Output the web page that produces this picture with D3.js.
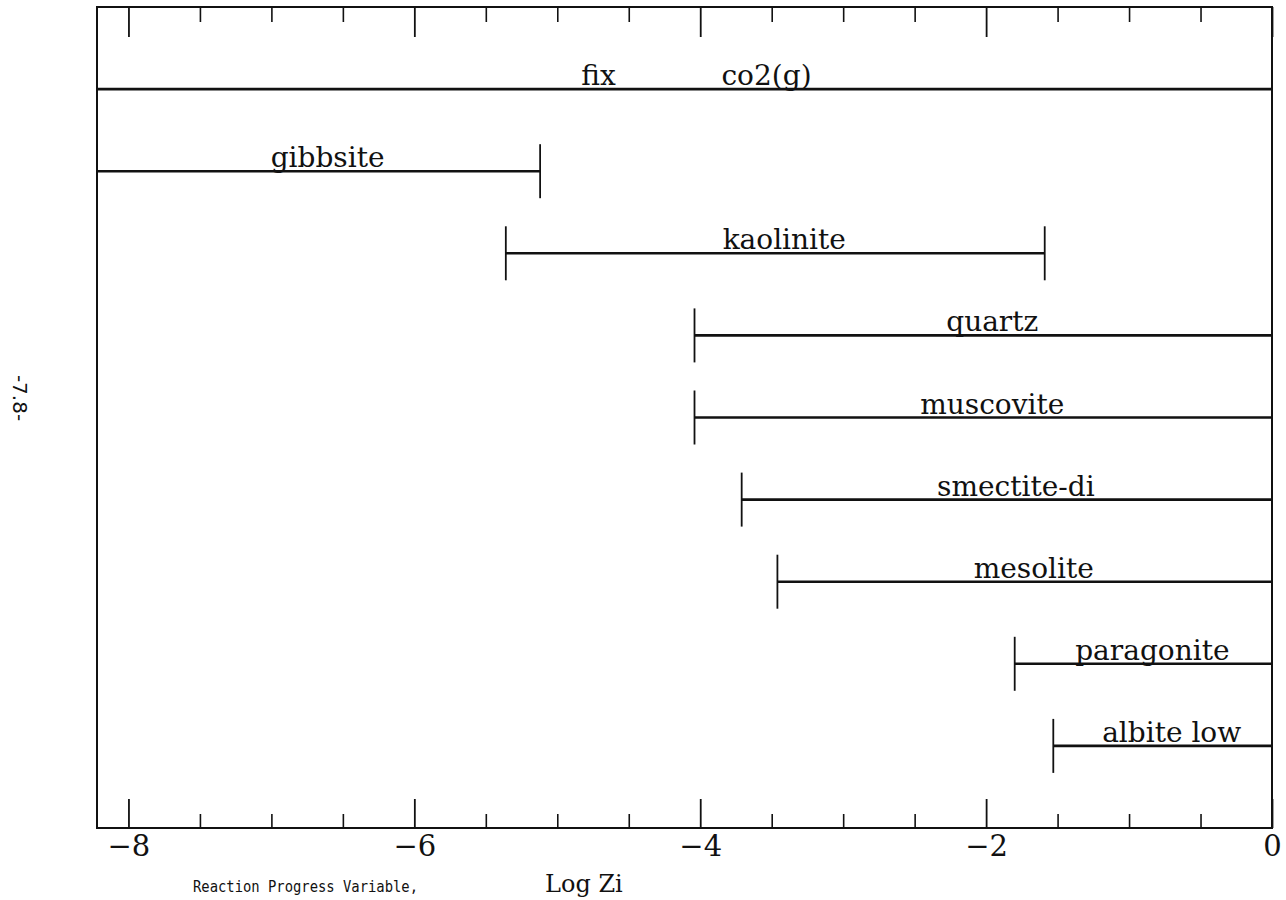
<!DOCTYPE html>
<html>
<head>
<meta charset="utf-8">
<script src="https://cdn.jsdelivr.net/npm/d3@7"></script>
<style>
  body { margin: 0; background: #fff; }
  svg { display: block; }
</style>
</head>
<body>
<script>
// mineral stability ranges vs reaction progress (log Zi)
var minerals = ["fix|co2(g)", "gibbsite", "kaolinite", "quartz", "muscovite",
                "smectite-di", "mesolite", "paragonite", "albite low"];
var startLogZi = [-8.22, -8.22, -5.36, -4.04, -4.04, -3.71, -3.46, -1.80, -1.53];
var endLogZi   = [0, -5.12, -1.59, 0, 0, 0, 0, 0, 0];
var majorTicks = [-8, -6, -4, -2, 0];
var tickLabels = ["\u22128", "\u22126", "\u22124", "\u22122", "0"];

var svgWidth = 1286;
var svgHeight = 900;

// frame of plot area
var frame = { left: 97, right: 1272, top: 7, bottom: 828 };

var svg = d3.select("body")
  .append("svg")
  .attr("width", svgWidth)
  .attr("height", svgHeight);

var ink = "#111";

var x = d3.scaleLinear()
  .domain([-8.22, 0])
  .range([frame.left, frame.right]);

var y = d3.scalePoint()
  .domain(minerals)
  .range([frame.top, frame.bottom])
  .padding(1);

var rows = minerals.map(function(m, i) {
  return { name: m, x0: startLogZi[i], x1: endLogZi[i] };
});

// frame box
svg.append("rect")
  .attr("x", frame.left)
  .attr("y", frame.top)
  .attr("width", frame.right - frame.left)
  .attr("height", frame.bottom - frame.top)
  .attr("fill", "none")
  .attr("stroke", ink)
  .attr("stroke-width", 2);

var minorTicks = d3.range(-8, 0.001, 0.5).filter(function(v) {
  return majorTicks.indexOf(v) < 0;
});

//bottom axis, ticks pointing in
var bottomAxis = d3.axisBottom(x)
  .tickValues(majorTicks)
  .tickSizeInner(-29)
  .tickSizeOuter(0)
  .tickPadding(7)
  .tickFormat(function(d, i) { return tickLabels[i]; });

var xAxis = svg.append("g")
  .attr("transform", `translate(0, ${frame.bottom})`)
  .call(bottomAxis);
xAxis.select(".domain").remove();
xAxis.selectAll("line").attr("stroke", ink).attr("stroke-width", 1.8);
xAxis.selectAll("text")
  .attr("fill", ink)
  .style("font-family", "'DejaVu Serif', serif")
  .style("font-size", "29px");

var xMinor = svg.append("g")
  .attr("transform", `translate(0, ${frame.bottom})`)
  .call(d3.axisBottom(x).tickValues(minorTicks).tickSizeInner(-14).tickSizeOuter(0).tickFormat(""));
xMinor.select(".domain").remove();
xMinor.selectAll("line").attr("stroke", ink).attr("stroke-width", 1.6);

//top axis, same ticks mirrored
var topAxis = svg.append("g")
  .attr("transform", `translate(0, ${frame.top})`)
  .call(d3.axisTop(x).tickValues(majorTicks).tickSizeInner(-30).tickSizeOuter(0).tickFormat(""));
topAxis.select(".domain").remove();
topAxis.selectAll("line").attr("stroke", ink).attr("stroke-width", 1.8);

var topMinor = svg.append("g")
  .attr("transform", `translate(0, ${frame.top})`)
  .call(d3.axisTop(x).tickValues(minorTicks).tickSizeInner(-15).tickSizeOuter(0).tickFormat(""));
topMinor.select(".domain").remove();
topMinor.selectAll("line").attr("stroke", ink).attr("stroke-width", 1.6);

// range bars
var bars = svg.append("g")
  .selectAll("g")
  .data(rows)
  .enter()
  .append("g");

bars.append("line")
  .attr("x1", d => x(d.x0))
  .attr("x2", d => x(d.x1))
  .attr("y1", d => y(d.name))
  .attr("y2", d => y(d.name))
  .attr("stroke", ink)
  .attr("stroke-width", 2.6);

// end caps (skip the fixed co2 row)
bars.filter((d, i) => i > 0)
  .selectAll(".cap")
  .data(d => [{ v: d.x0, n: d.name }, { v: d.x1, n: d.name }])
  .enter()
  .append("line")
  .attr("class", "cap")
  .attr("x1", d => x(d.v))
  .attr("x2", d => x(d.v))
  .attr("y1", d => y(d.n) - 27)
  .attr("y2", d => y(d.n) + 27)
  .attr("stroke", ink)
  .attr("stroke-width", 1.8);

// mineral names
var labels = bars.append("text")
  .attr("y", d => y(d.name) - 4)
  .attr("text-anchor", "middle")
  .attr("fill", ink)
  .style("font-family", "'DejaVu Serif', serif")
  .style("font-size", "28px");

labels.each(function(d) {
  var t = d3.select(this);
  var mid = (x(d.x0) + x(d.x1)) / 2 + 9;
  var parts = d.name.split("|");
  if (parts.length > 1) {
    t.append("tspan").attr("x", mid - 95).text(parts[0]);
    t.append("tspan").attr("x", mid + 73).text(parts[1]);
  } else {
    t.attr("x", mid).text(d.name);
  }
});

// axis title
var title = svg.append("text")
  .attr("x", 193)
  .attr("y", 892)
  .attr("fill", ink);
title.append("tspan")
  .attr("textLength", 225)
  .attr("lengthAdjust", "spacingAndGlyphs")
  .style("font-family", "'DejaVu Sans Mono', monospace")
  .style("font-size", "16px")
  .text("Reaction Progress Variable,");
title.append("tspan")
  .attr("x", 545)
  .style("font-family", "'DejaVu Serif', serif")
  .style("font-size", "24px")
  .text("Log Zi");

// page number
svg.append("text")
  .attr("transform", "translate(13, 398) rotate(90)")
  .attr("text-anchor", "middle")
  .attr("fill", ink)
  .style("font-family", "'DejaVu Sans', sans-serif")
  .style("font-size", "20px")
  .text("-7.8-");
</script>
</body>
</html>
